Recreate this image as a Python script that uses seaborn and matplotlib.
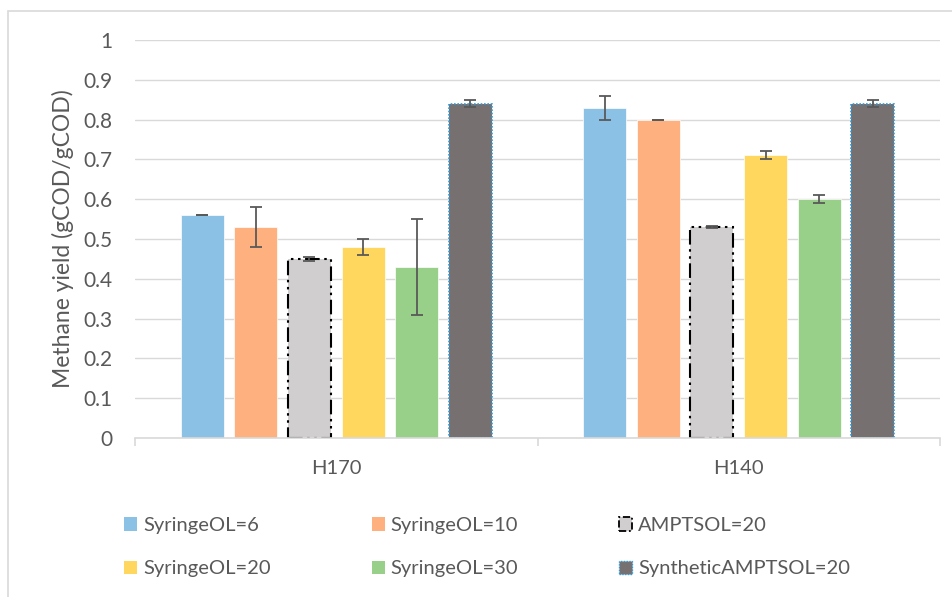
import matplotlib
matplotlib.use("Agg")
import matplotlib.pyplot as plt
from matplotlib.patches import Patch, Rectangle
import pandas as pd
import seaborn as sns

# ---- data ----
groups = ["H170", "H140"]
series = ["SyringeOL=6", "SyringeOL=10", "AMPTSOL=20",
          "SyringeOL=20", "SyringeOL=30", "SyntheticAMPTSOL=20"]
yield_h170 = [0.56, 0.53, 0.45, 0.48, 0.43, 0.84]
yield_h140 = [0.83, 0.80, 0.53, 0.71, 0.60, 0.84]
err_h170 = [0.0, 0.05, 0.005, 0.02, 0.12, 0.008]
err_h140 = [0.03, 0.0, 0.003, 0.01, 0.01, 0.008]
y_ticks = [0, 0.1, 0.2, 0.3, 0.4, 0.5, 0.6, 0.7, 0.8, 0.9, 1]
y_label = "Methane yield (gCOD/gCOD)"

colors = ["#8BC1E4", "#FEB07F", "#D0CECE", "#FFD75E", "#99D089", "#767070"]
text_col = "#595959"
grid_col = "#D9D9D9"

sns.set_theme(style="white")
plt.rcParams["font.family"] = ["Lato", "DejaVu Sans"]

rows = []
for g, vals in zip(groups, [yield_h170, yield_h140]):
    for s, v in zip(series, vals):
        rows.append({"group": g, "series": s, "value": v})
df = pd.DataFrame(rows)
errs = {"H170": err_h170, "H140": err_h140}

fig = plt.figure(figsize=(9.53, 5.97), dpi=100)
ax = fig.add_axes([135 / 953, 1 - 438 / 597, (940 - 135) / 953, (438 - 40) / 597])

sns.barplot(data=df, x="group", y="value", hue="series", order=groups,
            hue_order=series, palette=colors, width=0.8, gap=0.2,
            errorbar=None, legend=False, saturation=1, ax=ax,
            edgecolor="white", linewidth=0.5, zorder=2)

dashdot2 = (0, (7, 2.2, 1.2, 2.2, 1.2, 2.2))
bar_containers = list(ax.containers)
for si, cont in enumerate(bar_containers):
    for gi, bar in enumerate(cont):
        if si == 2:
            bar.set_edgecolor("black")
            bar.set_linewidth(1.5)
            bar.set_linestyle(dashdot2)
        elif si == 5:
            bar.set_edgecolor("#2E9BDB")
            bar.set_linewidth(1.2)
            bar.set_linestyle((0, (1, 1)))
        cx = bar.get_x() + bar.get_width() / 2
        ax.errorbar(cx, bar.get_height(), yerr=errs[groups[gi]][si],
                    fmt="none", ecolor="#595959", elinewidth=1.3,
                    capsize=4.5, capthick=1.3, zorder=4)

ax.set_ylim(0, 1)
ax.set_xlim(-0.5, 1.5)
ax.set_yticks(y_ticks)
ax.set_yticklabels([f"{t:g}" for t in y_ticks])
ax.yaxis.grid(True, color=grid_col, linewidth=1.0, zorder=0)
ax.set_axisbelow(True)
for side in ["top", "right", "left"]:
    ax.spines[side].set_visible(False)
ax.spines["bottom"].set_color(grid_col)
ax.spines["bottom"].set_linewidth(1.2)

ax.set_xticks([0, 1])
ax.set_xticklabels(groups)
ax.set_xticks([-0.5, 0.5, 1.5], minor=True)
ax.tick_params(axis="x", which="major", length=0, pad=16,
               labelsize=14.5, labelcolor=text_col)
ax.tick_params(axis="x", which="minor", length=6, width=1.2,
               color=grid_col, bottom=True)
ax.tick_params(axis="y", length=0, pad=16, labelsize=15, labelcolor=text_col)
ax.set_xlabel("")
ax.set_ylabel(y_label, fontsize=16.5, color=text_col, labelpad=7)

# legend, laid out row by row in three columns
handles = []
for s, c in zip(series, colors):
    if s == "AMPTSOL=20":
        h = Patch(facecolor=c, edgecolor="black", linewidth=1.3,
                  linestyle=(0, (4, 1.5, 1, 1.5)))
    elif s == "SyntheticAMPTSOL=20":
        h = Patch(facecolor=c, edgecolor="#2E9BDB", linewidth=1.0,
                  linestyle=(0, (1, 1)))
    else:
        h = Patch(facecolor=c, edgecolor="none")
    handles.append(h)
order = [0, 3, 1, 4, 2, 5]
leg = fig.legend([handles[i] for i in order], [series[i] for i in order],
                 ncol=3, loc="upper left", bbox_to_anchor=(106 / 953, 1 - 499 / 597),
                 frameon=False, fontsize=14.5, labelcolor=text_col,
                 handlelength=0.65, handleheight=0.65, handletextpad=0.3,
                 columnspacing=5.0, labelspacing=1.3)

# chart outline
fig.patches.append(Rectangle((8.5 / 953, -0.1), 1.2, 1 - 10.5 / 597 + 0.1,
                             transform=fig.transFigure, fill=False,
                             edgecolor=grid_col, linewidth=1.2))

fig.savefig("out.png", dpi=100, facecolor="white")
